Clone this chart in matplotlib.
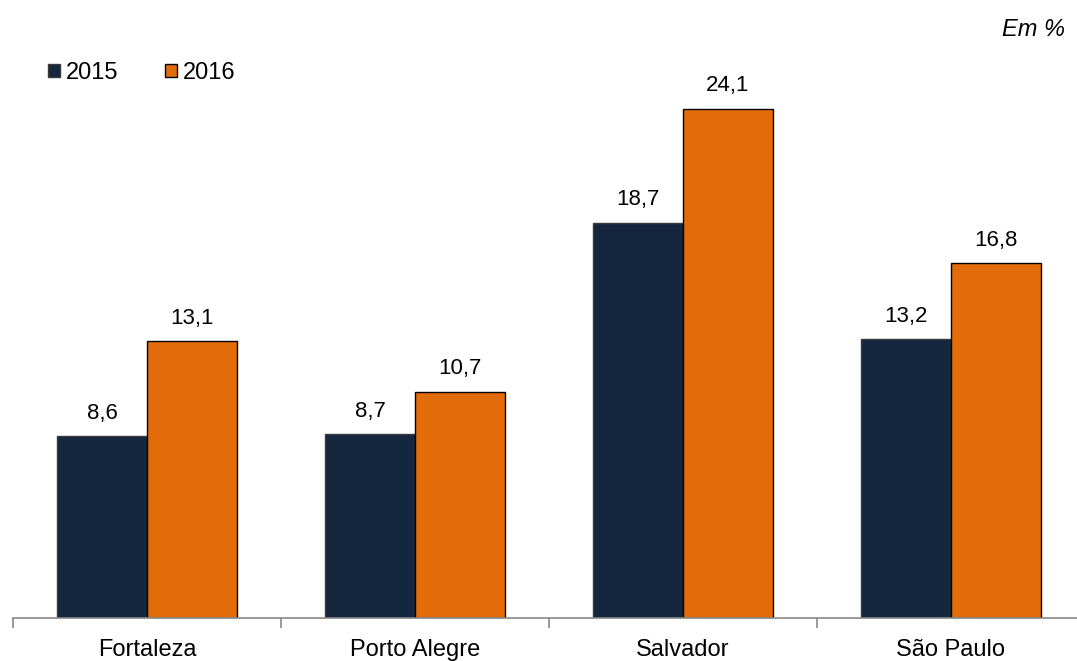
import matplotlib.pyplot as plt
import numpy as np

plt.rcParams['font.family'] = ['Liberation Sans', 'DejaVu Sans']

# Dados
cidades = ["Fortaleza", "Porto Alegre", "Salvador", "São Paulo"]
anos = ["2015", "2016"]
v2015 = [8.6, 8.7, 18.7, 13.2]
v2016 = [13.1, 10.7, 24.1, 16.8]

cor_2015 = "#14273F"
cor_2016 = "#E36C0A"

fig = plt.figure(figsize=(10.77, 6.61), dpi=100)
ax = fig.add_axes([13 / 1077, 43 / 661, 1072 / 1077, 598 / 661])

x = np.arange(len(cidades))
w = 0.336
b1 = ax.bar(x - w / 2, v2015, w, color=cor_2015, edgecolor="#3a3a3a", linewidth=1, label=anos[0])
b2 = ax.bar(x + w / 2, v2016, w, color=cor_2016, edgecolor="black", linewidth=1, label=anos[1])

for barras in (b1, b2):
    for b in barras:
        ax.annotate(f"{b.get_height():.1f}".replace(".", ","),
                    (b.get_x() + b.get_width() / 2, b.get_height()),
                    xytext=(0, 9), textcoords="offset points",
                    ha="center", va="bottom", fontsize=16)

ax.set_xlim(-0.5, len(cidades) - 0.5)
ax.set_ylim(0, 28.31)
ax.set_xticks(x)
ax.set_xticklabels(cidades, fontsize=17)
ax.tick_params(axis="x", length=0, pad=15)
ax.set_xticks(np.arange(len(cidades) + 1) - 0.5, minor=True)
ax.tick_params(axis="x", which="minor", length=7, color="#888888", width=1.2)
ax.set_yticks([])
for s in ("top", "right", "left"):
    ax.spines[s].set_visible(False)
ax.spines["bottom"].set_color("#888888")
ax.spines["bottom"].set_linewidth(1.2)

fig.text(1065 / 1077, 1 - 30 / 661, "Em %", ha="right", va="center",
         style="italic", fontsize=17)

fig.legend(loc="upper left", bbox_to_anchor=(48 / 1077, 1 - 62 / 661), frameon=False,
           ncol=2, fontsize=17, handlelength=0.5, handleheight=0.5,
           handletextpad=0.25, columnspacing=2.0, borderaxespad=0, borderpad=0)

fig.savefig("out.png", dpi=100)
